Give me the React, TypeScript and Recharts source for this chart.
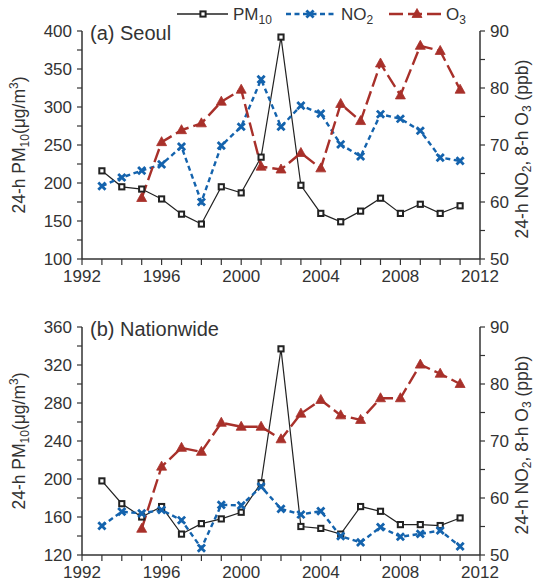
import React from 'react';
import { LineChart, Line, XAxis, YAxis, Label } from 'recharts';

const years = [1993, 1994, 1995, 1996, 1997, 1998, 1999, 2000, 2001, 2002, 2003, 2004, 2005, 2006, 2007, 2008, 2009, 2010, 2011];

// (a) Seoul
const seoulPm10 = [216, 195, 192, 179, 159, 146, 195, 187, 234, 392, 197, 160, 149, 163, 180, 160, 172, 160, 170];
const seoulNo2 = [62.8, 64.3, 65.5, 66.6, 69.7, 60.0, 69.9, 73.2, 81.5, 73.2, 76.9, 75.5, 70.1, 68.0, 75.4, 74.6, 72.5, 67.8, 67.2];
const seoulO3 = [null, null, 60.7, 70.5, 72.6, 73.8, 77.6, 79.7, 66.2, 65.7, 68.6, 65.9, 77.2, 74.2, 84.3, 78.7, 87.4, 86.5, 79.7];

// (b) Nationwide
const natPm10 = [198, 174, 160, 171, 142, 153, 158, 165, 196, 337, 150, 148, 142, 171, 166, 152, 152, 151, 159];
const natNo2 = [55.1, 57.6, 57.3, 57.9, 56.1, 51.2, 58.8, 58.7, 62.0, 58.1, 57.1, 57.7, 53.3, 52.2, 54.9, 53.2, 53.7, 54.3, 51.5];
const natO3 = [null, null, 54.6, 65.5, 68.8, 68.1, 73.2, 72.5, 72.5, 70.3, 74.8, 77.2, 74.5, 73.7, 77.5, 77.5, 83.4, 81.8, 80.0];

const yearTicks = [1992, 1993, 1994, 1995, 1996, 1997, 1998, 1999, 2000, 2001, 2002, 2003, 2004, 2005, 2006, 2007, 2008, 2009, 2010, 2011, 2012];
const seoulPmTicks = [100, 125, 150, 175, 200, 225, 250, 275, 300, 325, 350, 375, 400];
const natPmTicks = [120, 140, 160, 180, 200, 220, 240, 260, 280, 300, 320, 340, 360];
const gasTicks = [50, 55, 60, 65, 70, 75, 80, 85, 90];

const BLACK = '#222';
const BLUE = '#1463ad';
const RED = '#a8302a';
const AXIS = '#333';
const FONT = 'Arial, "Liberation Sans", sans-serif';

const SquareDot = (props: any) => {
  const { cx, cy, index } = props;
  if (cx == null || cy == null) return <g key={index} />;
  return <rect key={index} x={cx - 2.6} y={cy - 2.6} width={5.2} height={5.2} fill="#fff" stroke={BLACK} strokeWidth={2} />;
};

const CrossDot = (props: any) => {
  const { cx, cy, index } = props;
  if (cx == null || cy == null) return <g key={index} />;
  const r = 3.6;
  return (
    <path key={index} d={`M${cx - r},${cy - r}L${cx + r},${cy + r}M${cx - r},${cy + r}L${cx + r},${cy - r}`} stroke={BLUE} strokeWidth={2.8} fill="none" />
  );
};

const TriDot = (props: any) => {
  const { cx, cy, index } = props;
  if (cx == null || cy == null) return <g key={index} />;
  return <path key={index} d={`M${cx},${cy - 5.5}L${cx + 5},${cy + 3.5}L${cx - 5},${cy + 3.5}Z`} fill={RED} stroke={RED} strokeWidth={0.8} />;
};

const LeftTitle = ({ viewBox }: any) => {
  const x = 25;
  const y = viewBox.y + viewBox.height / 2;
  return (
    <text x={x} y={y} transform={`rotate(-90, ${x}, ${y})`} textAnchor="middle" fill={AXIS} fontSize={17.5} fontFamily={FONT}>
      24-h PM<tspan fontSize={12} dy={4}>10</tspan>
      <tspan dy={-4}>(μg/m</tspan>
      <tspan fontSize={12} dy={-7}>3</tspan>
      <tspan dy={7}>)</tspan>
    </text>
  );
};

const RightTitle = ({ viewBox }: any) => {
  const x = 528;
  const y = viewBox.y + viewBox.height / 2 + 4;
  return (
    <text x={x} y={y} transform={`rotate(-90, ${x}, ${y})`} textAnchor="middle" fill={AXIS} fontSize={17.5} fontFamily={FONT}>
      24-h NO<tspan fontSize={12} dy={3}>2</tspan>
      <tspan dy={-3}>, 8-h O</tspan>
      <tspan fontSize={12} dy={3}>3</tspan>
      <tspan dy={-3}> (ppb)</tspan>
    </text>
  );
};

type PanelProps = {
  title: string;
  pm: number[];
  no2: number[];
  o3: (number | null)[];
  pmDomain: [number, number];
  pmTicks: number[];
  pmLabelStep: number;
  top: number;
  height: number;
};

function Panel({ title, pm, no2, o3, pmDomain, pmTicks, pmLabelStep, top, height }: PanelProps) {
  const data = years.map((year, i) => ({ year, pm10: pm[i], no2: no2[i], o3: o3[i] }));
  const tickStyle = { fill: AXIS, fontSize: 17, fontFamily: FONT };
  const axisLine = { stroke: AXIS, strokeWidth: 1.5 };
  return (
    <div style={{ position: 'absolute', left: 0, top }}>
      <LineChart width={535} height={height} data={data} margin={{ top: 31, right: 0, bottom: 0, left: 0 }}>
        <XAxis
          dataKey="year"
          type="number"
          domain={[1992, 2012]}
          ticks={yearTicks}
          interval={0}
          tickFormatter={(v) => (v % 4 === 0 ? String(v) : '')}
          tickSize={6}
          tickMargin={5}
          height={height - 31 - 228}
          axisLine={axisLine}
          tickLine={{ stroke: AXIS, strokeWidth: 1.2 }}
          tick={tickStyle}
        />
        <YAxis
          yAxisId="pm"
          domain={pmDomain}
          ticks={pmTicks}
          interval={0}
          tickFormatter={(v) => ((v - pmDomain[0]) % pmLabelStep === 0 ? String(v) : '')}
          width={82}
          tickSize={5}
          tickMargin={5}
          axisLine={axisLine}
          tickLine={{ stroke: AXIS, strokeWidth: 1.2 }}
          tick={tickStyle}
        >
          <Label content={LeftTitle} />
        </YAxis>
        <YAxis
          yAxisId="gas"
          orientation="right"
          domain={[50, 90]}
          ticks={gasTicks}
          interval={0}
          tickFormatter={(v) => (v % 10 === 0 ? String(v) : '')}
          width={55}
          tickSize={5}
          tickMargin={5}
          axisLine={axisLine}
          tickLine={{ stroke: AXIS, strokeWidth: 1.2 }}
          tick={tickStyle}
        >
          <Label content={RightTitle} />
        </YAxis>
        <Line yAxisId="pm" dataKey="pm10" stroke={BLACK} strokeWidth={1.2} dot={SquareDot} isAnimationActive={false} />
        <Line yAxisId="gas" dataKey="no2" stroke={BLUE} strokeWidth={2.4} strokeDasharray="5 3.5" dot={CrossDot} isAnimationActive={false} />
        <Line yAxisId="gas" dataKey="o3" stroke={RED} strokeWidth={2.4} strokeDasharray="14 5" dot={TriDot} isAnimationActive={false} />
      </LineChart>
      <div style={{ position: 'absolute', left: 90, top: 22, fontSize: 20, fontFamily: FONT, color: AXIS, lineHeight: '22px' }}>{title}</div>
    </div>
  );
}

function TopLegend() {
  const y = 14;
  return (
    <svg width={535} height={28} style={{ position: 'absolute', left: 0, top: 0 }}>
      <g fontFamily={FONT} fontSize={17} fill={AXIS}>
        <line x1={177} x2={228} y1={y} y2={y} stroke={BLACK} strokeWidth={1.4} />
        <SquareDot cx={203} cy={y} index={0} />
        <text x={233} y={y + 6}>PM<tspan fontSize={12} dy={4}>10</tspan></text>
        <line x1={286} x2={336} y1={y} y2={y} stroke={BLUE} strokeWidth={2.4} strokeDasharray="5 3.5" />
        <CrossDot cx={310} cy={y} index={1} />
        <text x={341} y={y + 6}>NO<tspan fontSize={12} dy={4}>2</tspan></text>
        <line x1={389} x2={442} y1={y} y2={y} stroke={RED} strokeWidth={2.4} strokeDasharray="14 5" />
        <TriDot cx={417} cy={y} index={2} />
        <text x={446} y={y + 6}>O<tspan fontSize={12} dy={4}>3</tspan></text>
      </g>
    </svg>
  );
}

export default function App() {
  return (
    <div style={{ position: 'absolute', left: 0, top: 0, width: 535, height: 587, background: '#fff' }}>
      <Panel title="(a) Seoul" pm={seoulPm10} no2={seoulNo2} o3={seoulO3} pmDomain={[100, 400]} pmTicks={seoulPmTicks} pmLabelStep={50} top={0} height={290} />
      <Panel title="(b) Nationwide" pm={natPm10} no2={natNo2} o3={natO3} pmDomain={[120, 360]} pmTicks={natPmTicks} pmLabelStep={40} top={296} height={291} />
      <TopLegend />
    </div>
  );
}
